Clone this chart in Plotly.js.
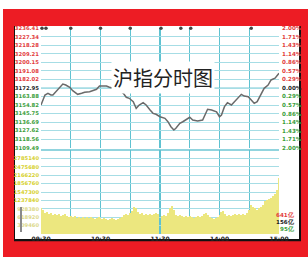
<!DOCTYPE html>
<html><head><meta charset="utf-8">
<script src="https://cdn.plot.ly/plotly-3.0.1.min.js"></script>
<style>html,body{margin:0;padding:0;background:#fff;}#chart{width:308px;height:257px;}</style>
</head><body><div id="chart"></div>
<script>
// ---- data ----
const priceMinutes = [0,4,7,10,12,15,19,22,25,29,32,37,41,44,49,52,56,59,62,66,69,74,78,83,86,89,93,96,99,103,106,110,113,116,120,125,128,131,134,136,140,143,146,150,153,158,163,167,168,172,177,180,182,185,188,192,195,199,202,205,209,212,215,218,222,225,229,232,236,239,240];
const priceValues = [3154.9,3165.5,3167.3,3165.5,3165.5,3169.0,3174.3,3177.2,3176.1,3173.7,3170.1,3166.2,3167.3,3168.4,3169.0,3169.8,3171.6,3175.1,3175.4,3175.1,3173.7,3172.6,3171.4,3167.3,3163.1,3162.0,3158.4,3151.3,3154.9,3157.3,3154.9,3149.6,3146.0,3145.0,3142.4,3140.7,3137.1,3131.8,3128.3,3130.1,3135.4,3137.1,3138.9,3141.8,3138.9,3137.8,3138.9,3147.7,3150.3,3149.5,3147.7,3142.4,3144.2,3153.1,3157.3,3154.9,3158.4,3163.7,3166.2,3164.4,3163.7,3160.2,3156.7,3158.4,3167.3,3172.6,3176.1,3181.5,3183.3,3186.8,3188.6];

const volMinutes = [0,2,4,6,8,10,12,14,16,18,20,22,24,26,28,30,32,34,36,38,40,42,44,46,48,50,52,54,56,58,60,62,64,66,68,70,72,74,76,78,80,82,84,86,88,90,92,94,96,98,100,102,104,106,108,110,112,114,116,118,120,122,124,126,128,130,132,134,136,138,140,142,144,146,148,150,152,154,156,158,160,162,164,166,168,170,172,174,176,178,180,182,184,186,188,190,192,194,196,198,200,202,204,206,208,210,212,214,216,218,220,222,224,226,228,230,232,234,236,238,240];
const volValues = [958000,884000,774000,810000,737000,774000,700000,737000,700000,737000,663000,700000,737000,663000,626000,663000,626000,663000,589000,626000,589000,626000,589000,626000,589000,626000,589000,553000,589000,626000,589000,553000,589000,553000,516000,553000,589000,553000,516000,553000,589000,626000,700000,737000,700000,774000,847000,995000,958000,810000,737000,774000,700000,737000,700000,737000,700000,737000,774000,737000,3050000,663000,700000,663000,774000,958000,1032000,884000,700000,663000,700000,663000,626000,663000,626000,663000,626000,589000,626000,663000,626000,663000,737000,774000,700000,626000,589000,553000,589000,626000,700000,810000,847000,737000,663000,700000,663000,700000,737000,700000,737000,700000,737000,700000,774000,884000,1068000,995000,958000,884000,958000,995000,1068000,1216000,1253000,1289000,1326000,1400000,1474000,1621000,2063000];

const priceTicks = [3236.41,3227.34,3218.28,3209.21,3200.15,3191.08,3182.02,3172.95,3163.88,3154.82,3145.75,3136.69,3127.62,3118.56,3109.49];
const priceLabels = ['3236.41','3227.34','3218.28','3209.21','3200.15','3191.08','3182.02','3172.95','3163.88','3154.82','3145.75','3136.69','3127.62','3118.56','3109.49'];
const pctLabels = ['2.00%','1.71%','1.43%','1.14%','0.86%','0.57%','0.29%','0.00%','0.29%','0.57%','0.86%','1.14%','1.43%','1.71%','2.00%'];
const volTicks = [3094600,2785140,2475680,2166220,1856760,1547300,1237840,928380,618920,309460,0];
const volLabels = ['','2785140','2475680','2166220','1856760','1547300','1237840','928380','618920','309460',''];
const gridMinutes = [0,30,60,90,120,150,180,210,240];
const timeLabels = ['09:30','','10:30','','11:30','','14:00','','15:00'];
const markerMinutes = [1,5,30,60,90,121,141,151,212];
const amountLabels = ['641亿','156亿','95亿'];
const titleText = '沪指分时图';

// ---- helpers ----
const W = 308, H = 257;
const px = x => x / W, py = y => 1 - y / H;
const RED = '#e23b3b', GREEN = '#3a9e3a', BLACK = '#222';
const colorFor = i => i < 7 ? RED : (i === 7 ? BLACK : GREEN);
const leftText = priceLabels.map((t, i) => `<span style="color:${colorFor(i)}">${t}</span>`);
const rightText = pctLabels.map((t, i) => `<span style="color:${colorFor(i)}">${t}</span>`);
const volText = volLabels.map((t, i) => `<span style="color:${i >= 7 ? '#dcd88a' : '#d6cf2a'}">${t}</span>`);

const traces = [
  {type: 'bar', x: volMinutes, y: volValues, xaxis: 'x', yaxis: 'y3',
   width: volMinutes.map(m => m === 120 ? 0.8 : 2),
   marker: {color: '#ece77f', line: {width: 0}}, hoverinfo: 'skip'},
  {type: 'scatter', mode: 'lines', x: priceMinutes, y: priceValues, xaxis: 'x', yaxis: 'y',
   line: {color: '#6a6a6a', width: 1.5}, hoverinfo: 'skip'},
  {type: 'scatter', mode: 'markers', x: markerMinutes, y: markerMinutes.map(() => priceTicks[0]),
   xaxis: 'x', yaxis: 'y', cliponaxis: false, marker: {color: '#444', size: 3.5}, hoverinfo: 'skip'},
  {type: 'scatter', mode: 'markers', x: [0], y: [priceTicks[7]], xaxis: 'x', yaxis: 'y2',
   marker: {opacity: 0}, hoverinfo: 'skip'}
];

const gridH = '#a6dde5', gridV = '#5fc2d1';
const layout = {
  width: W, height: H, margin: {l: 0, r: 0, t: 0, b: 0},
  paper_bgcolor: '#ffffff', plot_bgcolor: 'rgba(0,0,0,0)', showlegend: false,
  bargap: 0,
  xaxis: {domain: [px(41), px(279)], range: [0, 240], anchor: 'y3',
    tickmode: 'array', tickvals: gridMinutes, ticktext: timeLabels, ticks: '',
    showgrid: true, gridcolor: gridV, gridwidth: 1.3, zeroline: false, showline: false,
    tickfont: {family: 'DejaVu Sans', size: 6, color: '#222', weight: 'bold'}, ticklabelstandoff: 0},
  yaxis: {domain: [py(147.7), py(28.3)], range: [priceTicks[14], priceTicks[0]], anchor: 'x',
    tickmode: 'array', tickvals: priceTicks, ticktext: leftText, ticks: '',
    showgrid: true, gridcolor: gridH, gridwidth: 1, zeroline: false, showline: false,
    tickfont: {family: 'DejaVu Sans', size: 5.3, color: '#222', weight: 'bold'}, ticklabelstandoff: 1},
  yaxis2: {overlaying: 'y', side: 'right', anchor: 'x', range: [priceTicks[14], priceTicks[0]],
    tickmode: 'array', tickvals: priceTicks, ticktext: rightText, ticks: '',
    showgrid: false, zeroline: false, showline: false,
    tickfont: {family: 'DejaVu Sans', size: 5.6, color: '#222', weight: 'bold'}, ticklabelstandoff: 2},
  yaxis3: {domain: [py(234), py(150)], range: [0, volTicks[0]], anchor: 'x',
    tickmode: 'array', tickvals: volTicks, ticktext: volText, ticks: '',
    showgrid: true, gridcolor: gridH, gridwidth: 1, zeroline: false, showline: false,
    tickfont: {family: 'DejaVu Sans', size: 5.2, color: '#d6cf2a', weight: 'bold'}, ticklabelstandoff: 1},
  shapes: [
    {type: 'rect', xref: 'paper', yref: 'paper', x0: px(3), x1: px(308), y0: py(257), y1: py(9),
     fillcolor: '#ed1c24', line: {width: 0}, layer: 'below'},
    {type: 'rect', xref: 'paper', yref: 'paper', x0: px(14), x1: px(301), y0: py(241.3), y1: py(26),
     fillcolor: '#111', line: {width: 0}, layer: 'below'},
    {type: 'rect', xref: 'paper', yref: 'paper', x0: px(15), x1: px(299), y0: py(239), y1: py(26),
     fillcolor: '#ffffff', line: {width: 0}, layer: 'below'},
    {type: 'line', xref: 'paper', yref: 'paper', x0: px(41), x1: px(279), y0: py(150), y1: py(150),
     line: {color: '#6cc6d3', width: 1.3}, layer: 'below'},
    {type: 'line', xref: 'paper', yref: 'y', x0: px(41), x1: px(279), y0: priceTicks[7], y1: priceTicks[7],
     line: {color: '#78c9d5', width: 1.2}, layer: 'below'},
    {type: 'line', xref: 'paper', yref: 'paper', x0: px(21), x1: px(21), y0: py(232), y1: py(207),
     line: {color: '#8a8a8a', width: 2}, layer: 'above'}
  ],
  annotations: [
    {text: titleText, xref: 'paper', yref: 'paper', x: px(163), y: py(61), showarrow: false,
     font: {family: 'Noto Sans CJK SC', size: 20, color: '#222'}, bgcolor: '#ffffff', borderpad: 1}
  ].concat(amountLabels.map((t, i) => ({
     text: t, xref: 'paper', yref: 'paper', x: px(297), y: py(220 + i * 7), xanchor: 'right', showarrow: false,
     font: {family: 'DejaVu Sans', size: 5.6, color: [RED, BLACK, GREEN][i], weight: 'bold'}
  })))
};

Plotly.newPlot('chart', traces, layout, {staticPlot: true, displayModeBar: false});
</script></body></html>
